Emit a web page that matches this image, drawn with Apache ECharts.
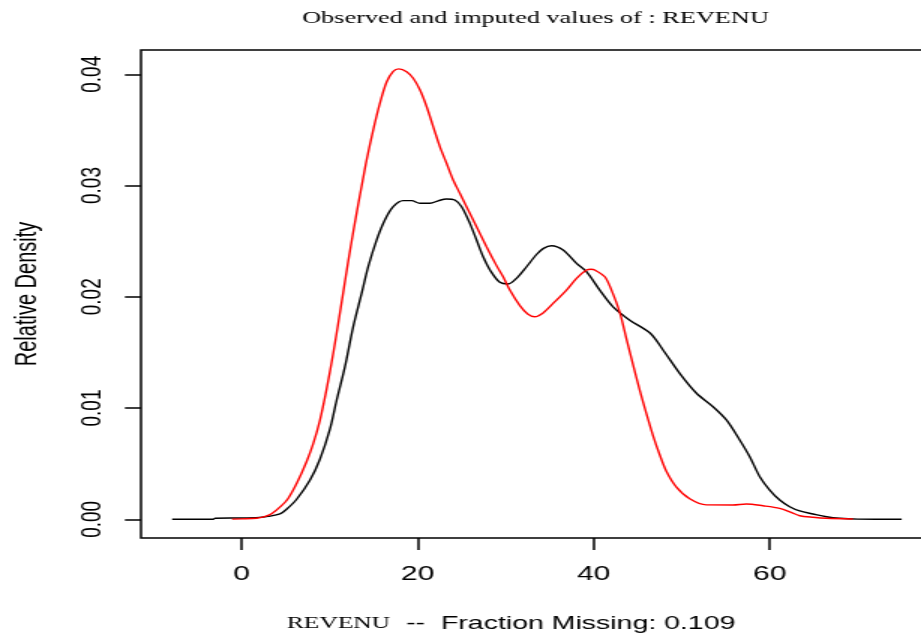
<!DOCTYPE html>
<html>
<head>
<meta charset="utf-8">
<script src="https://cdn.jsdelivr.net/npm/echarts@6/dist/echarts.min.js"></script>
<style>
  html, body { margin: 0; padding: 0; background: #fff; overflow: hidden; }
  /* the plot is laid out on a narrow canvas and widened to fill the page */
  #chart { width: 621px; height: 640px; transform: scaleX(1.5); transform-origin: 0 0; }
</style>
</head>
<body>
<div id="chart"></div>
<script>
// Kernel density of REVENU, observed values
const revenuObs = [-7.9, -5, -3.2, -3, 0, 2, 3, 4.35, 5.1, 6.25, 7.75, 8.89, 10.03, 10.79, 11.73,
  12.67, 13.63, 14.38, 15.33, 16.27, 17.22, 18.35, 19.31, 20.25, 21.39, 22.4, 23.28, 24.22, 24.99,
  25.93, 26.69, 27.44, 28.3, 29.33, 30.28, 31.23, 32.37, 33.5, 34.3, 35.21, 36.52, 38.05, 39.18, 40.69,
  42.2, 44.1, 46.43, 47.88, 49.77, 51.68, 53.56, 55.08, 56.59, 57.73, 58.87, 60, 61.14, 62.27,
  63.41, 64.92, 66.44, 67.95, 70, 75];
const densityObs = [0, 0, 0.00001, 0.0001, 0.00012, 0.00017, 0.00026, 0.00048, 0.0009, 0.0018,
  0.0035, 0.0054, 0.0081, 0.0107, 0.0137, 0.0173, 0.0203, 0.0227, 0.0251, 0.0269, 0.0281, 0.02864,
  0.02864, 0.0284, 0.0284, 0.02865, 0.02879, 0.0287, 0.0281, 0.0266, 0.0251, 0.0236, 0.0223, 0.0213,
  0.02115, 0.02166, 0.0227, 0.0238, 0.02435, 0.02459, 0.0242, 0.023, 0.02226, 0.0206, 0.0191, 0.0179,
  0.01672, 0.01522, 0.01312, 0.01133, 0.01012, 0.00893, 0.00713, 0.00563, 0.00383, 0.00263,
  0.00173, 0.00113, 0.00075, 0.00048, 0.00023, 0.00009, 0.00002, 0];

// Kernel density of REVENU, imputed values
const revenuImp = [-1.1, 0, 1.7, 2.6, 3.4, 4.5, 5.3, 6.3, 7.38, 8.13, 8.89, 9.65, 10.4, 10.97, 11.54,
  12.11, 12.67, 13.24, 13.74, 14.2, 14.95, 15.71, 16.47, 17.22, 17.86, 18.74, 19.49, 20.25, 21.01,
  21.76, 22.52, 23.28, 24.03, 24.79, 25.55, 26.69, 27.82, 28.96, 29.71, 30.47, 31.61, 32.5, 33.3,
  34.25, 35.39, 36.91, 38.05, 39.18, 39.7, 40.13, 41.26, 42.02, 42.96, 43.73, 44.47, 45.23, 45.99,
  46.75, 47.5, 48.27, 49.4, 50.91, 52.81, 55.83, 57.35, 59.24, 61.13, 62.5, 63.41, 64.92, 66.44, 69.46];
const densityImp = [0.00002, 0.00004, 0.0001, 0.00025, 0.0005, 0.0012, 0.0019, 0.0033, 0.0052,
  0.0068, 0.0089, 0.0117, 0.0149, 0.0176, 0.0204, 0.0232, 0.0258, 0.0283, 0.0304, 0.0323, 0.035,
  0.0374, 0.0393, 0.04025, 0.04048, 0.04023, 0.03964, 0.0386, 0.0371, 0.0353, 0.0335, 0.032,
  0.0305, 0.0293, 0.0281, 0.0263, 0.0245, 0.0228, 0.0218, 0.0206, 0.0192, 0.01845, 0.0182,
  0.01855, 0.0194, 0.0206, 0.02166, 0.0224, 0.02248, 0.0224, 0.0218, 0.0206, 0.0186, 0.0162,
  0.0139, 0.0116, 0.0095, 0.0075, 0.0058, 0.0043, 0.0029, 0.00185, 0.0013, 0.00129, 0.00138,
  0.00122, 0.00099, 0.0006, 0.00032, 0.00018, 0.00009, 0.00003];

const xTicks = [0, 20, 40, 60];
const yTicks = [0, 0.01, 0.02, 0.03, 0.04];

const titleText = 'Observed and imputed values of : REVENU';
const varName = 'REVENU';
const fractionMissing = 0.109;

const pairs = (xs, ys) => xs.map((x, i) => [x, ys[i]]);

const chart = echarts.init(document.getElementById('chart'));

const sans = 'Liberation Sans, Arial, sans-serif';
const serif = 'Liberation Serif, Times New Roman, serif';

chart.setOption({
  animation: false,
  backgroundColor: '#fff',
  grid: {
    left: 94, right: 0.5, top: 50, bottom: 102,
    show: true, borderColor: '#000', borderWidth: 1.5, backgroundColor: 'transparent'
  },
  graphic: [{
    type: 'text', x: 357, y: 18, silent: true,
    style: {
      text: titleText, fill: '#000', font: '17.5px ' + serif,
      textAlign: 'center', textVerticalAlign: 'middle'
    }
  }],
  xAxis: {
    type: 'value', min: -11.44, max: 78.3,
    splitLine: { show: false },
    axisLine: { show: false, onZero: false },
    axisTick: { show: true, length: 12, customValues: xTicks, lineStyle: { color: '#000', width: 1.5 } },
    axisLabel: { customValues: xTicks, margin: 26, color: '#000', fontSize: 20, fontFamily: sans },
    name: '{v|' + varName + '}{t|  --  Fraction Missing: ' + fractionMissing + '}',
    nameLocation: 'middle', nameGap: 75,
    nameTextStyle: {
      padding: [0, 33, 0, 0],
      rich: {
        v: { fontFamily: serif, fontSize: 17, color: '#000', lineHeight: 22 },
        t: { fontFamily: sans, fontSize: 19, color: '#000', lineHeight: 22 }
      }
    }
  },
  yAxis: {
    type: 'value', min: -0.00168, max: 0.04218,
    splitLine: { show: false },
    axisLine: { show: false, onZero: false },
    axisTick: { show: true, length: 10.7, customValues: yTicks, lineStyle: { color: '#000', width: 1.5 } },
    axisLabel: {
      customValues: yTicks, rotate: 90, margin: 23, color: '#000', fontSize: 19, fontFamily: sans,
      formatter: v => v.toFixed(2)
    },
    name: 'Relative Density', nameLocation: 'middle', nameGap: 66,
    nameTextStyle: { color: '#000', fontSize: 20, fontFamily: sans }
  },
  series: [
    {
      name: 'observed', type: 'line', data: pairs(revenuObs, densityObs),
      showSymbol: false, smooth: 0.3, lineStyle: { color: '#000', width: 1.4 }, z: 2
    },
    {
      name: 'imputed', type: 'line', data: pairs(revenuImp, densityImp),
      showSymbol: false, smooth: 0.3, lineStyle: { color: '#ff0000', width: 1.4 }, z: 3
    }
  ]
});
</script>
</body>
</html>
